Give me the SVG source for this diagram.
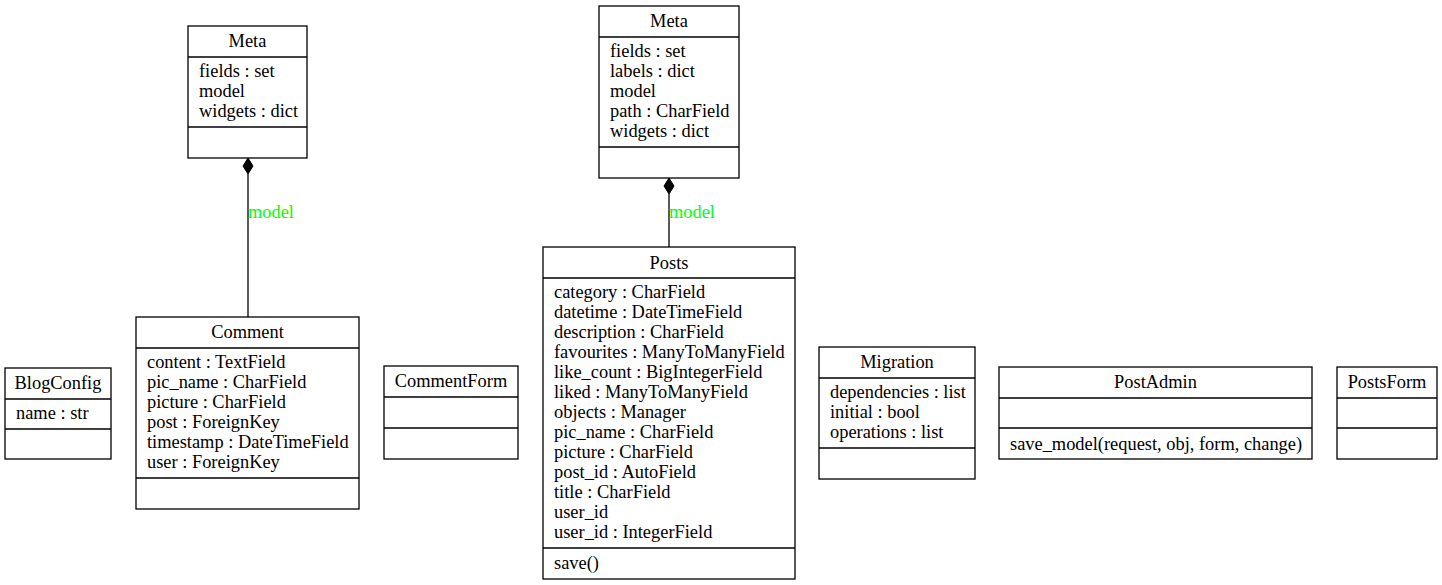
<svg xmlns="http://www.w3.org/2000/svg" width="1442" height="585" viewBox="0 0 1442 585">
<style>
text{font-family:"Liberation Serif","Times New Roman",serif;font-size:18.4px;fill:#000}
.t{text-anchor:middle}
.b{fill:#fff;stroke:#000;stroke-width:1.3}
.d{stroke:#000;stroke-width:1.3}
.lbl{fill:#00ff00}
.e{stroke:#000;stroke-width:1.3;fill:none}
</style>
<rect width="1442" height="585" fill="#fff"/>
<g id="connectors">
<path class="e" d="M248,174 V317"/>
<path d="M248,158 L253,166 L248,174 L243,166 Z" fill="#000" stroke="#000"/>
<text class="lbl" x="248" y="218">model</text>
<path class="e" d="M669,194 V247"/>
<path d="M669,178 L674,186 L669,194 L664,186 Z" fill="#000" stroke="#000"/>
<text class="lbl" x="669" y="218">model</text>
</g>
<g id="meta1">
<rect class="b" x="188" y="26" width="119" height="132"/>
<line class="d" x1="188" y1="57" x2="307" y2="57"/>
<line class="d" x1="188" y1="127" x2="307" y2="127"/>
<text class="t" x="247.5" y="47">Meta</text>
<text x="199" y="77">fields : set</text>
<text x="199" y="97">model</text>
<text x="199" y="117">widgets : dict</text>
</g>
<g id="blogconfig">
<rect class="b" x="5" y="368" width="106" height="91"/>
<line class="d" x1="5" y1="399" x2="111" y2="399"/>
<line class="d" x1="5" y1="429" x2="111" y2="429"/>
<text class="t" x="58" y="389">BlogConfig</text>
<text x="16" y="419">name : str</text>
</g>
<g id="comment">
<rect class="b" x="136" y="317" width="223" height="192"/>
<line class="d" x1="136" y1="348" x2="359" y2="348"/>
<line class="d" x1="136" y1="478" x2="359" y2="478"/>
<text class="t" x="247.5" y="338">Comment</text>
<text x="147" y="368">content : TextField</text>
<text x="147" y="388">pic_name : CharField</text>
<text x="147" y="408">picture : CharField</text>
<text x="147" y="428">post : ForeignKey</text>
<text x="147" y="448">timestamp : DateTimeField</text>
<text x="147" y="468">user : ForeignKey</text>
</g>
<g id="commentform">
<rect class="b" x="384" y="366" width="134" height="93"/>
<line class="d" x1="384" y1="397" x2="518" y2="397"/>
<line class="d" x1="384" y1="428" x2="518" y2="428"/>
<text class="t" x="451" y="387">CommentForm</text>
</g>
<g id="meta2">
<rect class="b" x="599" y="6" width="140" height="172"/>
<line class="d" x1="599" y1="37" x2="739" y2="37"/>
<line class="d" x1="599" y1="147" x2="739" y2="147"/>
<text class="t" x="669" y="27">Meta</text>
<text x="610" y="57">fields : set</text>
<text x="610" y="77">labels : dict</text>
<text x="610" y="97">model</text>
<text x="610" y="117">path : CharField</text>
<text x="610" y="137">widgets : dict</text>
</g>
<g id="posts">
<rect class="b" x="543" y="247" width="252" height="332"/>
<line class="d" x1="543" y1="278" x2="795" y2="278"/>
<line class="d" x1="543" y1="548" x2="795" y2="548"/>
<text class="t" x="669" y="269">Posts</text>
<text x="554" y="298">category : CharField</text>
<text x="554" y="318">datetime : DateTimeField</text>
<text x="554" y="338">description : CharField</text>
<text x="554" y="358">favourites : ManyToManyField</text>
<text x="554" y="378">like_count : BigIntegerField</text>
<text x="554" y="398">liked : ManyToManyField</text>
<text x="554" y="418">objects : Manager</text>
<text x="554" y="438">pic_name : CharField</text>
<text x="554" y="458">picture : CharField</text>
<text x="554" y="478">post_id : AutoField</text>
<text x="554" y="498">title : CharField</text>
<text x="554" y="518">user_id</text>
<text x="554" y="538">user_id : IntegerField</text>
<text x="554" y="569">save()</text>
</g>
<g id="migration">
<rect class="b" x="819" y="347" width="156" height="132"/>
<line class="d" x1="819" y1="378" x2="975" y2="378"/>
<line class="d" x1="819" y1="448" x2="975" y2="448"/>
<text class="t" x="897" y="368">Migration</text>
<text x="830" y="398">dependencies : list</text>
<text x="830" y="418">initial : bool</text>
<text x="830" y="438">operations : list</text>
</g>
<g id="postadmin">
<rect class="b" x="999" y="367" width="313" height="92"/>
<line class="d" x1="999" y1="398" x2="1312" y2="398"/>
<line class="d" x1="999" y1="428" x2="1312" y2="428"/>
<text class="t" x="1155.5" y="388">PostAdmin</text>
<text x="1010" y="450">save_model(request, obj, form, change)</text>
</g>
<g id="postsform">
<rect class="b" x="1337" y="367" width="100" height="92"/>
<line class="d" x1="1337" y1="398" x2="1437" y2="398"/>
<line class="d" x1="1337" y1="428" x2="1437" y2="428"/>
<text class="t" x="1387" y="388">PostsForm</text>
</g>
</svg>
